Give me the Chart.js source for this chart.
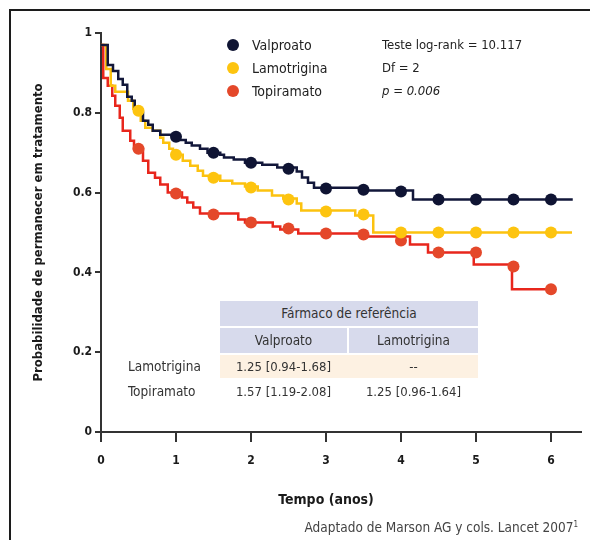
<!DOCTYPE html>
<html>
<head>
<meta charset="utf-8">
<script src="https://cdn.jsdelivr.net/npm/chart.js@4.4.1/dist/chart.umd.min.js"></script>
<style>
  body { margin: 0; background: #fff; overflow: hidden; }
  #wrap { position: relative; width: 590px; height: 540px; font-family: "Liberation Sans Narrow", "DejaVu Sans Condensed", sans-serif; color: #222; }
  #frame { position: absolute; left: 9px; top: 9px; width: 700px; height: 700px; border: 2px solid #1c1c1c; }
  canvas { position: absolute; left: 0; top: 0; }
  .leg { position: absolute; font-size: 14px; line-height: 18px; }
  .dot { position: absolute; width: 12px; height: 12px; border-radius: 50%; }
  .cell { position: absolute; font-size: 13px; text-align: center; color: #333; }
  .src { position: absolute; right: 12px; top: 519px; font-size: 13.5px; color: #444; }
</style>
</head>
<body>
<div id="wrap">
  <div id="frame"></div>
  <canvas id="kmChart" width="590" height="540"></canvas>
  <div id="overlay"></div>
  <div class="src">Adaptado de Marson AG y cols. Lancet 2007<sup style="font-size:8px">1</sup></div>
</div>
<script>
// series names and colours
const seriesNames = ['Valproato', 'Lamotrigina', 'Topiramato'];
const lineColors = ['#12173a', '#fcc20f', '#e8261c'];
const dotColors = ['#0f1433', '#fdc40f', '#e4482a'];

// Kaplan-Meier steps (time in years, survival)
const valproatoT = [0, 0.09, 0.16, 0.23, 0.29, 0.35, 0.41, 0.45, 0.52, 0.56, 0.63, 0.69, 0.79, 1.03, 1.13, 1.21, 1.32, 1.42, 1.59, 1.64, 1.77, 1.92, 2.15, 2.35, 2.61, 2.68, 2.76, 2.84, 3.5, 4.16, 6.29];
const valproatoS = [0.97, 0.92, 0.905, 0.885, 0.87, 0.84, 0.83, 0.81, 0.80, 0.78, 0.77, 0.755, 0.745, 0.732, 0.725, 0.718, 0.71, 0.70, 0.695, 0.688, 0.683, 0.675, 0.67, 0.663, 0.653, 0.638, 0.625, 0.612, 0.605, 0.583, 0.583];

const lamotriginaT = [0, 0.07, 0.13, 0.19, 0.36, 0.43, 0.53, 0.59, 0.69, 0.79, 0.83, 0.91, 0.96, 1.09, 1.19, 1.29, 1.36, 1.59, 1.75, 1.92, 2.09, 2.28, 2.43, 2.61, 2.67, 3.39, 3.63, 6.28];
const lamotriginaS = [0.97, 0.91, 0.8675, 0.8525, 0.83, 0.81, 0.78, 0.7625, 0.755, 0.7375, 0.725, 0.71, 0.695, 0.68, 0.6675, 0.655, 0.6425, 0.63, 0.6225, 0.615, 0.605, 0.5925, 0.585, 0.5725, 0.555, 0.5425, 0.50, 0.50];

const topiramatoT = [0, 0.03, 0.09, 0.15, 0.19, 0.25, 0.29, 0.39, 0.44, 0.56, 0.63, 0.72, 0.79, 0.89, 1.08, 1.15, 1.23, 1.32, 1.83, 1.92, 2.29, 2.39, 2.63, 3.52, 4.12, 4.36, 4.97, 5.48, 6.0];
const topiramatoS = [0.97, 0.8875, 0.8675, 0.8425, 0.8175, 0.7875, 0.755, 0.73, 0.71, 0.68, 0.65, 0.6375, 0.62, 0.60, 0.5875, 0.575, 0.5625, 0.5475, 0.5325, 0.525, 0.515, 0.5075, 0.4975, 0.49, 0.47, 0.45, 0.42, 0.3575, 0.3575];

// marker dots
const valproatoDotT = [1, 1.5, 2, 2.5, 3, 3.5, 4, 4.5, 5, 5.5, 6];
const valproatoDotS = [0.74, 0.70, 0.675, 0.66, 0.61, 0.607, 0.603, 0.583, 0.583, 0.583, 0.583];
const lamotriginaDotT = [0.5, 1, 1.5, 2, 2.5, 3, 3.5, 4, 4.5, 5, 5.5, 6];
const lamotriginaDotS = [0.805, 0.695, 0.6375, 0.6125, 0.5825, 0.5525, 0.545, 0.50, 0.50, 0.50, 0.50, 0.50];
const topiramatoDotT = [0.5, 1, 1.5, 2, 2.5, 3, 3.5, 4, 4.5, 5, 5.5, 6];
const topiramatoDotS = [0.71, 0.5975, 0.545, 0.525, 0.51, 0.4975, 0.495, 0.48, 0.45, 0.45, 0.415, 0.3575];

// axes
const xTicks = [0, 1, 2, 3, 4, 5, 6];
const yTicks = [0, 0.2, 0.4, 0.6, 0.8, 1];

// stats text
const statsLines = ['Teste log-rank = 10.117', 'Df = 2', 'p = 0.006'];

// hazard ratio table
const refHeader = 'Fármaco de referência';
const refDrugs = ['Valproato', 'Lamotrigina'];
const rowDrugs = ['Lamotrigina', 'Topiramato'];
const hrValues = [['1.25 [0.94-1.68]', '--'], ['1.57 [1.19-2.08]', '1.25 [0.96-1.64]']];

const FONT = '"Liberation Sans Narrow", "DejaVu Sans Condensed", sans-serif';

function pts(t, s) {
    return t.map((v, i) => ({ x: v, y: s[i] }));
}

const stepSets = [[valproatoT, valproatoS], [lamotriginaT, lamotriginaS], [topiramatoT, topiramatoS]];
const dotSets = [[valproatoDotT, valproatoDotS], [lamotriginaDotT, lamotriginaDotS], [topiramatoDotT, topiramatoDotS]];

const datasets = [];
stepSets.forEach((d, i) => {
    datasets.push({
        label: seriesNames[i],
        data: pts(d[0], d[1]),
        borderColor: lineColors[i],
        borderWidth: 2.5,
        stepped: true,
        pointRadius: 0,
        fill: false,
        order: i + 1
    });
});
dotSets.forEach((d, i) => {
    datasets.push({
        label: seriesNames[i] + ' marcas',
        data: pts(d[0], d[1]),
        showLine: false,
        pointRadius: 6,
        pointBorderWidth: 0,
        pointBackgroundColor: dotColors[i],
        order: 0
    });
});

const xTitlePlugin = {
    id: 'xTitle',
    afterDraw(chart) {
        const x = chart.scales.x;
        const cx = (x.getPixelForValue(xTicks[0]) + x.getPixelForValue(xTicks[xTicks.length - 1])) / 2;
        const ctx = chart.ctx;
        ctx.save();
        ctx.font = 'bold 14px ' + FONT;
        ctx.fillStyle = '#1a1a1a';
        ctx.textAlign = 'center';
        ctx.textBaseline = 'middle';
        ctx.fillText('Tempo (anos)', cx, 500);
        ctx.restore();
    }
};

const ctx = document.getElementById('kmChart').getContext('2d');
new Chart(ctx, {
    type: 'line',
    data: { datasets: datasets },
    options: {
        responsive: false,
        animation: false,
        layout: { padding: { top: 33, right: 9, bottom: 0, left: 0 } },
        plugins: {
            legend: { display: false },
            tooltip: { enabled: false }
        },
        scales: {
            x: {
                type: 'linear',
                min: 0,
                max: 6.4,
                afterFit(scale) { scale.height = 108; },
                afterBuildTicks(scale) { scale.ticks = xTicks.map(v => ({ value: v })); },
                grid: { drawOnChartArea: false, drawTicks: true, tickLength: 10, color: '#333', lineWidth: 2 },
                border: { display: true, color: '#333', width: 2 },
                ticks: { padding: 12, color: '#1a1a1a', font: { family: FONT, size: 12, weight: 'bold' } }
            },
            y: {
                min: 0,
                max: 1,
                afterFit(scale) { scale.width = 101; },
                afterBuildTicks(scale) { scale.ticks = yTicks.map(v => ({ value: v })); },
                grid: { drawOnChartArea: false, drawTicks: true, tickLength: 6, color: '#333', lineWidth: 2 },
                border: { display: true, color: '#333', width: 2 },
                ticks: {
                    padding: 3,
                    color: '#1a1a1a',
                    font: { family: FONT, size: 12, weight: 'bold' },
                    callback: v => (v === 0 || v === 1) ? String(v) : v.toFixed(1)
                },
                title: {
                    display: true,
                    text: 'Probabilidade de permanecer em tratamento',
                    color: '#1a1a1a',
                    font: { family: FONT, size: 13, weight: 'bold' },
                    padding: { top: 31, bottom: 0 }
                }
            }
        }
    },
    plugins: [xTitlePlugin]
});

// legend + stats + table overlay
const overlay = document.getElementById('overlay');
function add(html) { overlay.insertAdjacentHTML('beforeend', html); }

const legendY = [45, 68, 91];
seriesNames.forEach((name, i) => {
    add(`<div class="dot" style="left:227px;top:${legendY[i] - 6}px;background:${dotColors[i]}"></div>`);
    add(`<div class="leg" style="left:252px;top:${legendY[i] - 9}px">${name}</div>`);
});
statsLines.forEach((s, i) => {
    const style = i === 2 ? 'font-style:italic;' : '';
    add(`<div class="leg" style="left:382px;top:${legendY[i] - 9}px;${style}font-size:13px">${s}</div>`);
});

const lav = '#d7daec', peach = '#fdf1e2';
add(`<div class="cell" style="left:220px;top:301px;width:258px;height:25px;line-height:25px;background:${lav};font-size:13.5px">${refHeader}</div>`);
const colX = [[220, 127], [349, 129]];
refDrugs.forEach((d, j) => {
    add(`<div class="cell" style="left:${colX[j][0]}px;top:328px;width:${colX[j][1]}px;height:25px;line-height:25px;background:${lav};font-size:13.5px">${d}</div>`);
});
const rowY = [355, 380];
rowDrugs.forEach((r, i) => {
    if (i === 0) add(`<div class="cell" style="left:220px;top:${rowY[i]}px;width:258px;height:23px;background:${peach}"></div>`);
    add(`<div class="cell" style="left:118px;top:${rowY[i]}px;width:100px;height:23px;line-height:23px;text-align:left;padding-left:10px;font-size:13.5px">${r}</div>`);
    hrValues[i].forEach((v, j) => {
        add(`<div class="cell" style="left:${colX[j][0]}px;top:${rowY[i]}px;width:${colX[j][1]}px;height:23px;line-height:23px">${v}</div>`);
    });
});
</script>
</body>
</html>
